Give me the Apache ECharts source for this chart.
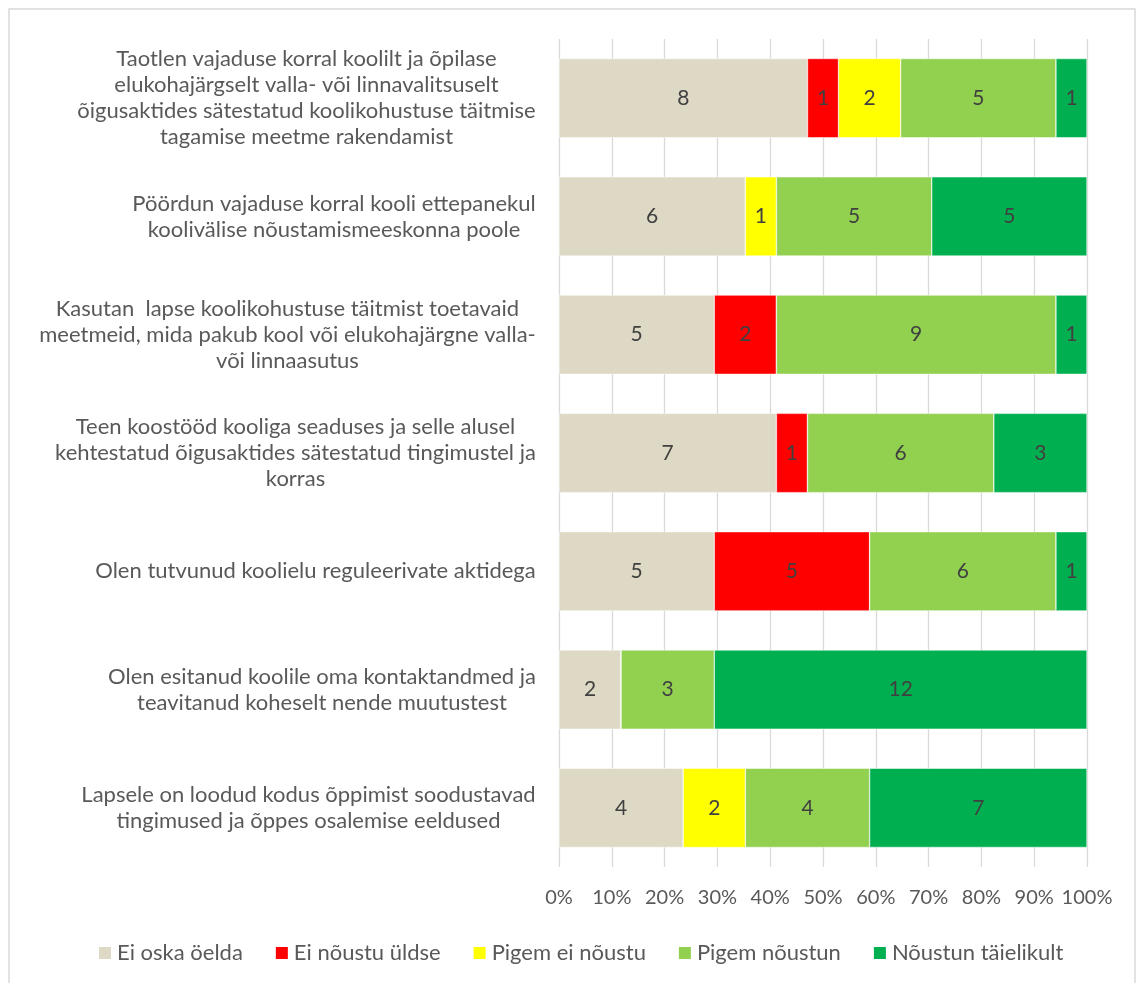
<!DOCTYPE html>
<html>
<head>
<meta charset="utf-8">
<script src="https://cdn.jsdelivr.net/npm/echarts@6/dist/echarts.min.js"></script>
<style>
html,body{margin:0;padding:0;background:#fff;}
#chart{width:1144px;height:983px;}
</style>
</head>
<body>
<div id="chart"></div>
<script>
// ---- data ----
const categories = [
  "Taotlen vajaduse korral koolilt ja õpilase\nelukohajärgselt valla- või linnavalitsuselt\nõigusaktides sätestatud koolikohustuse täitmise\ntagamise meetme rakendamist",
  "Pöördun vajaduse korral kooli ettepanekul\nkoolivälise nõustamismeeskonna poole",
  "Kasutan  lapse koolikohustuse täitmist toetavaid\nmeetmeid, mida pakub kool või elukohajärgne valla-\nvõi linnaasutus",
  "Teen koostööd kooliga seaduses ja selle alusel\nkehtestatud õigusaktides sätestatud tingimustel ja\nkorras",
  "Olen tutvunud koolielu reguleerivate aktidega",
  "Olen esitanud koolile oma kontaktandmed ja\nteavitanud koheselt nende muutustest",
  "Lapsele on loodud kodus õppimist soodustavad\ntingimused ja õppes osalemise eeldused"
];
const seriesNames = ["Ei oska öelda", "Ei nõustu üldse", "Pigem ei nõustu", "Pigem nõustun", "Nõustun täielikult"];
const eiOska      = [8, 6, 5, 7, 5, 2, 4];
const eiNoustu    = [1, 0, 2, 1, 5, 0, 0];
const pigemEi     = [2, 1, 0, 0, 0, 0, 2];
const pigemNoustun= [5, 5, 9, 6, 6, 3, 4];
const noustun     = [1, 5, 1, 3, 1, 12, 7];
const xTicks = [0, 10, 20, 30, 40, 50, 60, 70, 80, 90, 100];

const counts = [eiOska, eiNoustu, pigemEi, pigemNoustun, noustun];
const colors = ["#DDD9C4", "#FF0000", "#FFFF00", "#92D050", "#00B050"];
const totals = categories.map((_, i) => counts.reduce((s, arr) => s + arr[i], 0));

const FONT = "Lato";
const FS_LABEL = 22;
const FS_LEGEND = 22;
const FS_TICK = 20;
const FS_DATA = 21;
const textColor = "#595959";

// measure label lines for centered multi-line blocks
const cv = document.createElement("canvas").getContext("2d");
cv.font = FS_LABEL + "px " + FONT;
const rich = {};
categories.forEach((c, i) => {
  const w = Math.max(...c.split("\n").map(l => cv.measureText(l).width));
  rich["c" + i] = {width: Math.ceil(w) + 2, align: "center", fontFamily: FONT, fontSize: FS_LABEL, color: textColor, lineHeight: 26};
});

const chart = echarts.init(document.getElementById("chart"), null, {renderer: "canvas"});
chart.setOption({
  animation: false,
  textStyle: {fontFamily: FONT},
  graphic: [{
    type: "rect", shape: {x: 9, y: 9, width: 1126, height: 1010},
    style: {fill: "none", stroke: "#D9D9D9", lineWidth: 1.5}, silent: true, z: -10
  }],
  grid: {left: 559, right: 57, top: 39, bottom: 116, containLabel: false},
  legend: {
    bottom: 14,
    left: 92,
    itemWidth: 14, itemHeight: 14, itemGap: 31,
    icon: "rect",
    textStyle: {fontFamily: FONT, fontSize: FS_LEGEND, color: textColor},
    data: seriesNames
  },
  xAxis: {
    type: "value", min: 0, max: 100, interval: 10,
    axisLabel: {formatter: v => xTicks.includes(v) ? v + "%" : "", fontFamily: FONT, fontSize: FS_TICK, color: textColor, margin: 21},
    axisLine: {show: false}, axisTick: {show: false},
    splitLine: {show: true, lineStyle: {color: "#D9D9D9", width: 1.3}}
  },
  yAxis: {
    type: "category", inverse: true, data: categories,
    axisLine: {show: false}, axisTick: {show: false},
    axisLabel: {
      margin: 22, align: "right",
      formatter: (v, idx) => v.split("\n").map(l => "{c" + idx + "|" + l + "}").join("\n"),
      rich: rich
    }
  },
  series: seriesNames.map((name, si) => ({
    name: name, type: "bar", stack: "total",
    barCategoryGap: "33%",
    itemStyle: {color: colors[si], borderColor: "#ffffff", borderWidth: 0.5},
    label: {
      show: true, position: "inside",
      fontFamily: FONT, fontSize: FS_DATA, color: "#404040",
      formatter: p => counts[si][p.dataIndex] ? String(counts[si][p.dataIndex]) : ""
    },
    data: counts[si].map((v, i) => v / totals[i] * 100)
  }))
});
</script>
</body>
</html>
